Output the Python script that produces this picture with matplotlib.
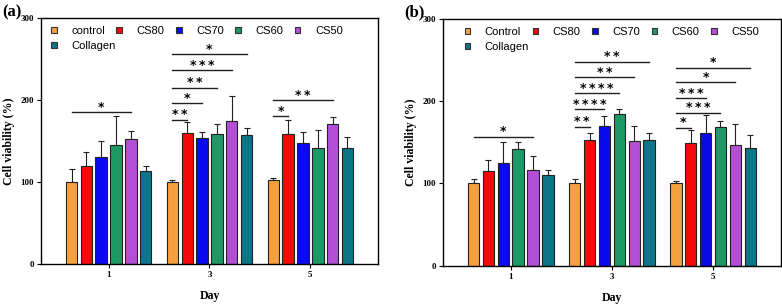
import matplotlib.pyplot as plt
import numpy as np
from matplotlib.patches import Patch

# === data ===
days = ['1', '3', '5']
names_a = ['control', 'CS80', 'CS70', 'CS60', 'CS50', 'Collagen']
names_b = ['Control', 'CS80', 'CS70', 'CS60', 'CS50', 'Collagen']
colors = ['#F7A03F', '#F50A0A', '#0A0AEE', '#1E9966', '#B24FD6', '#0C7689']

# rows = series (control..Collagen), cols = day 1, 3, 5
means_a = [[100, 100, 103],
           [119, 160, 158],
           [130, 154, 147],
           [145, 159, 141],
           [152, 174, 171],
           [113, 157, 142]]
errs_a = [[16, 2, 1.5],
          [17, 13, 17],
          [20, 7, 14],
          [35, 12, 22],
          [10, 31, 8.5],
          [6, 8.5, 13]]

means_b = [[100, 100, 100],
           [115, 153, 149],
           [125, 170, 162],
           [142, 184, 169],
           [116, 152, 147],
           [110, 153, 143]]
errs_b = [[5, 5, 2.5],
          [13, 8, 16],
          [25, 12, 21],
          [9, 6, 7],
          [17, 18, 25],
          [7, 9, 16]]

# significance brackets: (day index, compared series index, height, stars)
sig_a = [(0, 4, 185, '*'),
         (1, 1, 176, '**'), (1, 2, 196, '*'), (1, 3, 215, '**'),
         (1, 4, 236, '***'), (1, 5, 256, '*'),
         (2, 1, 180, '*'), (2, 4, 200, '**')]
sig_b = [(0, 4, 157, '*'),
         (1, 1, 169, '**'), (1, 2, 190, '****'), (1, 3, 210, '****'),
         (1, 4, 229, '**'), (1, 5, 248, '**'),
         (2, 1, 168, '*'), (2, 3, 186, '***'), (2, 2, 204, '***'),
         (2, 4, 223, '*'), (2, 5, 241, '*')]

serif = 'Liberation Serif'
sans = 'Liberation Sans'
step = 0.147
width = 0.113

fig = plt.figure(figsize=(7.82, 3.06), dpi=100)
ax_a = fig.add_axes([0.0524, 0.1373, 0.431, 0.804])
ax_b = fig.add_axes([0.5665, 0.1317, 0.432, 0.806])


def draw(ax, means, errs, sigs, names, tag, leg_x):
    x = np.arange(len(days))
    for i in range(len(names)):
        xi = x + (i - 2.5) * step
        ax.bar(xi, means[i], width, color=colors[i], edgecolor='#222222',
               linewidth=0.8, zorder=2)
        ax.errorbar(xi, means[i], yerr=[np.zeros(len(days)), errs[i]],
                    fmt='none', ecolor='#222222', elinewidth=0.8,
                    capsize=2.2, capthick=0.8, zorder=1)
    for d, s, h, lab in sigs:
        x0 = d - 2.5 * step
        x1 = d + (s - 2.5) * step
        ax.plot([x0, x1], [h, h], color='#222222', lw=1.0)
        ax.annotate('\u2009'.join(lab), xy=((x0 + x1) / 2, h), xytext=(0, 1.0),
                    textcoords='offset points', ha='center', va='baseline',
                    fontsize=9, fontweight='bold', family='DejaVu Sans')

    ax.set_xlim(-0.67, 2.67)
    ax.set_ylim(0, 300)
    ax.set_yticks([0, 100, 200, 300])
    ax.set_xticks(x)
    ax.set_xticklabels(days)
    ax.tick_params(direction='out', length=3, width=0.8, labelsize=6.5, pad=2)
    for t in ax.get_xticklabels() + ax.get_yticklabels():
        t.set_family(serif)
        t.set_fontweight('bold')
    for sp in ax.spines.values():
        sp.set_linewidth(1.0)
    ax.set_xlabel('Day', family=serif, fontweight='bold', fontsize=8.5, labelpad=8)
    ax.set_ylabel('Cell viability (%)', family=serif, fontweight='bold',
                  fontsize=8.5, labelpad=4)

    # first five entries in one row, Collagen alone on a second row
    handles = [Patch(facecolor=c, edgecolor='#333333', linewidth=0.8) for c in colors]
    opts = dict(loc='upper left', frameon=False, prop={'family': sans, 'size': 8},
                handlelength=0.5, handleheight=0.5, handletextpad=1.3,
                columnspacing=1.05, borderaxespad=0.2)
    leg1 = ax.legend(handles[:5], names[:5], ncol=5,
                     bbox_to_anchor=(leg_x, 0.995), **opts)
    ax.add_artist(leg1)
    ax.legend(handles[5:], names[5:], ncol=1,
              bbox_to_anchor=(leg_x, 0.935), **opts)
    fig.text(ax.get_position().x0 - 0.05, 0.985, tag, family=serif,
             fontweight='bold', fontsize=12, va='top', ha='left')


draw(ax_a, means_a, errs_a, sig_a, names_a, '(a)', 0.01)
draw(ax_b, means_b, errs_b, sig_b, names_b, '(b)', 0.045)

fig.savefig('out.png', dpi=100)
